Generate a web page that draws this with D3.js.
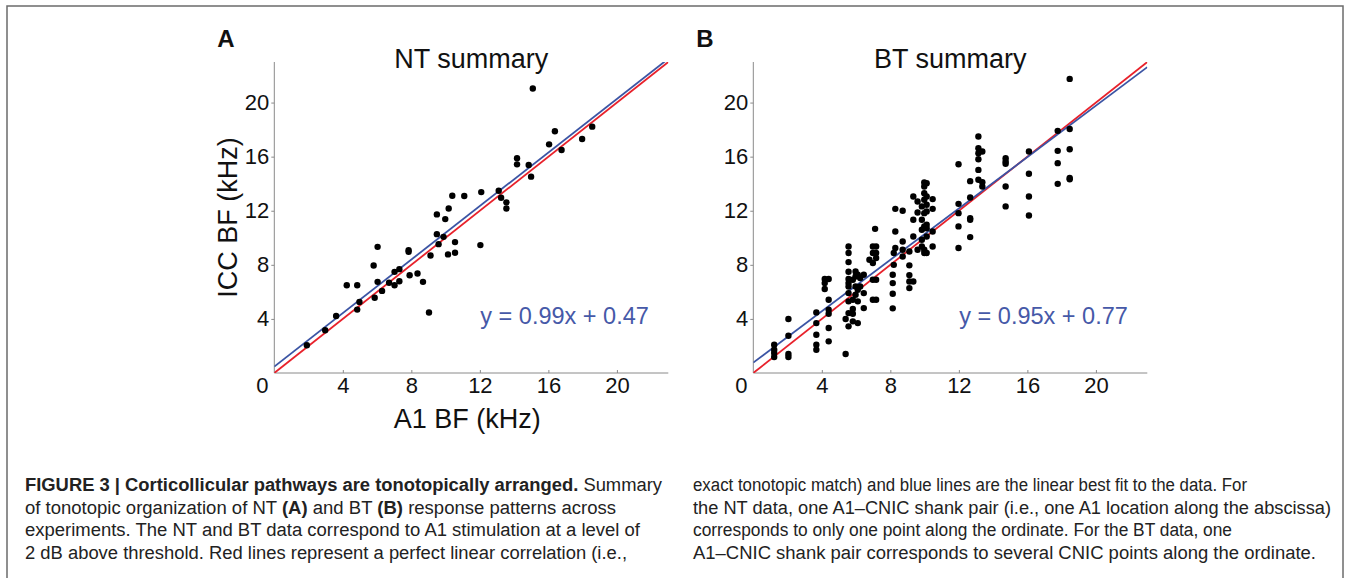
<!DOCTYPE html>
<html>
<head>
<meta charset="utf-8">
<script src="https://cdn.jsdelivr.net/npm/d3@7"></script>
<style>
  body { margin: 0; background: #fff; }
  svg { display: block; font-family: "Liberation Sans", Arial, sans-serif; }
</style>
</head>
<body>
<div id="chart-area"></div>
<script>
// NT data: one ICC point per A1 location
var ntA1  = [1.9, 2.97, 3.61, 4.23, 4.84, 4.97, 4.84, 5.80, 5.86, 6.03, 6.03, 6.29, 6.70, 7.02, 7.02, 7.30, 7.30,
             7.84, 7.84, 7.90, 8.36, 8.68, 9.03, 9.12, 9.49, 9.49, 9.59, 9.88, 9.98, 10.14, 10.18, 10.39, 10.55,
             10.55, 11.09, 12.03, 12.08, 13.10, 13.24, 13.55, 13.55, 14.17, 14.17, 14.85, 14.99, 15.09, 16.04,
             16.38, 16.77, 17.97, 18.56];
var ntICC = [2.05, 3.16, 4.22, 6.49, 6.49, 5.26, 4.69, 7.95, 5.56, 9.33, 6.74, 6.07, 6.67, 7.48, 6.49, 7.68, 6.79,
             9.09, 8.96, 7.23, 7.36, 6.74, 4.47, 8.69, 11.73, 10.27, 9.53, 10.07, 11.38, 8.77, 12.17, 13.11, 9.68,
             8.89, 13.09, 9.46, 13.38, 13.48, 12.96, 12.62, 12.17, 15.88, 15.43, 15.38, 14.52, 21.04, 16.91,
             17.88, 16.49, 17.31, 18.22];

// BT data: several ICC points per A1 location (A1 BF -> list of ICC BF)
var btA1 = [1.22, 2.05, 3.68, 4.17, 4.40, 5.39, 5.56, 5.81, 5.97, 6.10, 6.24, 6.45, 6.78, 6.98, 7.17, 7.11,
            8.14, 8.20, 8.29, 8.72, 9.11, 9.34, 9.59, 9.84, 9.98, 10.12, 10.47, 11.98, 12.66, 13.14, 13.37,
            14.73, 16.09, 17.77, 18.47];
var btICC = [
  [2.09, 1.72, 1.48, 1.18],
  [3.99, 2.76, 1.40, 1.18],
  [4.48, 3.69, 2.83, 2.09, 1.72],
  [6.95, 6.65, 6.21],
  [6.95, 5.42, 4.68, 4.38, 3.33, 2.34],
  [1.40, 3.99],
  [9.36, 8.87, 8.20, 7.49, 6.95, 6.65, 6.40, 5.91, 5.30, 4.43, 3.45],
  [6.90, 5.42, 4.73, 4.38, 3.82],
  [7.51, 7.14, 6.40, 5.79],
  [7.27, 6.16, 5.30, 3.69],
  [7.02, 6.40],
  [7.27, 5.91, 4.80],
  [8.37],
  [9.36, 8.87, 8.13, 6.90, 5.42],
  [9.36, 8.87, 8.50, 6.90, 5.42],
  [10.66],
  [7.27, 6.65, 5.86, 4.78],
  [8.87, 8.00],
  [12.14, 10.47, 9.24],
  [12.00, 9.73, 9.11, 8.62],
  [8.99, 7.96, 7.24, 6.77, 6.28],
  [13.05, 11.33, 10.10, 6.77],
  [12.68, 11.87, 9.11],
  [12.32, 11.33, 10.59, 9.85, 9.36],
  [14.09, 13.79, 13.30, 12.81, 11.82, 10.84, 9.11, 8.87],
  [14.04, 13.05, 12.44, 11.95, 10.96, 10.71, 10.10, 8.87],
  [12.86, 12.14, 10.47, 9.36],
  [15.44, 12.51, 11.82, 10.84, 9.24],
  [14.19, 12.98, 11.45, 11.33, 10.05],
  [17.49, 16.63, 16.26, 15.81, 15.02, 14.29],
  [16.38, 14.11, 13.79],
  [15.89, 15.64, 15.47, 13.79, 12.32],
  [16.38, 14.73, 13.05, 11.65],
  [17.91, 16.43, 15.52, 13.99],
  [21.75, 18.05, 16.55, 14.43, 14.33]
];

// fits: [slope, intercept]
var ntFit = [0.99, 0.47];
var btFit = [0.95, 0.77];
var tickValues = [4, 8, 12, 16, 20];
var axisMax = 23;

var captionLeft = [
  [["FIGURE 3 | Corticollicular pathways are tonotopically arranged.", true], [" Summary", false]],
  [["of tonotopic organization of NT ", false], ["(A)", true], [" and BT ", false], ["(B)", true], [" response patterns across", false]],
  [["experiments. The NT and BT data correspond to A1 stimulation at a level of", false]],
  [["2 dB above threshold. Red lines represent a perfect linear correlation (i.e.,", false]]
];
var captionRight = [
  [["exact tonotopic match) and blue lines are the linear best fit to the data. For", false]],
  [["the NT data, one A1\u2013CNIC shank pair (i.e., one A1 location along the abscissa)", false]],
  [["corresponds to only one point along the ordinate. For the BT data, one", false]],
  [["A1\u2013CNIC shank pair corresponds to several CNIC points along the ordinate.", false]]
];

var W = 1349, H = 578;
var svg = d3.select("#chart-area").append("svg")
	.attr("width", W)
	.attr("height", H);

// figure frame
svg.append("rect")
	.attr("x", 7).attr("y", 6)
	.attr("width", 1336).attr("height", 600)
	.attr("fill", "none")
	.attr("stroke", "#6b6b6b")
	.attr("stroke-width", 1.5);

var ntPoints = ntA1.map(function(x, i){ return {x: x, y: ntICC[i]}; });
var btPoints = [];
btA1.forEach(function(x, i){
	btICC[i].forEach(function(y){ btPoints.push({x: x, y: y}); });
});

function drawPanel(opt) {
	var x = d3.scaleLinear().domain([0, axisMax]).range([opt.left, opt.left + 394]);
	var y = d3.scaleLinear().domain([0, axisMax]).range([373, 62]);
	var g = svg.append("g");

	g.append("clipPath").attr("id", "clip" + opt.letter)
		.append("rect")
		.attr("x", x(0)).attr("y", y(axisMax))
		.attr("width", x(axisMax) - x(0)).attr("height", y(0) - y(axisMax));

	// axes (ticks and labels from d3, axis lines drawn plain)
	var xAxis = d3.axisBottom(x).tickValues(tickValues).tickSize(-3).tickFormat(d3.format("d")).tickPadding(6);
	var yAxis = d3.axisLeft(y).tickValues(tickValues).tickSize(3).tickFormat(d3.format("d")).tickPadding(2);
	var gx = g.append("g").attr("transform", "translate(0," + y(0) + ")").call(xAxis);
	var gy = g.append("g").attr("transform", "translate(" + x(0) + ",0)").call(yAxis);
	[gx, gy].forEach(function(a){
		a.select(".domain").remove();
		a.selectAll(".tick line").attr("stroke", "#8a8a8a");
		a.selectAll(".tick text").attr("font-size", "22px").attr("fill", "#111")
			.attr("font-family", "'Liberation Sans', Arial, sans-serif");
	});
	g.append("line").attr("x1", x(0)).attr("x2", x(axisMax)).attr("y1", y(0)).attr("y2", y(0))
		.attr("stroke", "#8a8a8a");
	g.append("line").attr("x1", x(0)).attr("x2", x(0)).attr("y1", y(0)).attr("y2", y(axisMax))
		.attr("stroke", "#8a8a8a");
	gx.selectAll(".tick text").attr("dy", "0.62em");
	g.append("text")
		.attr("x", x(0) - 12).attr("y", y(0) + 20)
		.attr("text-anchor", "middle")
		.attr("font-size", "22px").attr("fill", "#111")
		.text("0");

	// reference line (red) and best fit (blue)
	var lines = g.append("g").attr("clip-path", "url(#clip" + opt.letter + ")");
	lines.append("line")
		.attr("x1", x(0)).attr("y1", y(0))
		.attr("x2", x(axisMax)).attr("y2", y(axisMax))
		.attr("stroke", "#e8212b").attr("stroke-width", 1.8);
	lines.append("line")
		.attr("x1", x(0)).attr("y1", y(opt.fit[1]))
		.attr("x2", x(axisMax)).attr("y2", y(opt.fit[0] * axisMax + opt.fit[1]))
		.attr("stroke", "#3b54a4").attr("stroke-width", 1.8);

	// dots
	g.selectAll("circle.dot")
		.data(opt.points)
		.enter().append("circle")
			.attr("class", "dot")
			.attr("cx", function(d){ return x(d.x); })
			.attr("cy", function(d){ return y(d.y); })
			.attr("r", 3.2)
			.attr("fill", "#000");

	// labels
	g.append("text")
		.attr("x", (x(0) + x(axisMax)) / 2).attr("y", 68)
		.attr("text-anchor", "middle")
		.attr("font-size", "27px").attr("fill", "#111")
		.text(opt.title);
	g.append("text")
		.attr("x", opt.left - 57).attr("y", 47)
		.attr("font-size", "24px").attr("font-weight", "bold").attr("fill", "#111")
		.text(opt.letter);
	g.append("text")
		.attr("x", x(0) + 206).attr("y", 324)
		.attr("font-size", "23.5px").attr("fill", "#4659a8")
		.text("y = " + opt.fit[0].toFixed(2) + "x + " + opt.fit[1].toFixed(2));

	if (opt.axisLabels) {
		g.append("text")
			.attr("x", (x(0) + x(axisMax)) / 2 - 4).attr("y", 428)
			.attr("text-anchor", "middle")
			.attr("font-size", "27px").attr("fill", "#111")
			.text("A1 BF (kHz)");
		g.append("text")
			.attr("transform", "translate(237," + ((y(0) + y(axisMax)) / 2) + ") rotate(-90)")
			.attr("text-anchor", "middle")
			.attr("font-size", "27px").attr("fill", "#111")
			.text("ICC BF (kHz)");
	}
}

drawPanel({left: 274.3, letter: "A", title: "NT summary", points: ntPoints, fit: ntFit, axisLabels: true});
drawPanel({left: 753.3, letter: "B", title: "BT summary", points: btPoints, fit: btFit, axisLabels: false});

// caption: condensed look by squeezing Liberation Sans to the measured line widths
var baselines = [491, 513.5, 536, 558.5];
var leftEnds = [662, 616, 640, 627];
var rightEnds = [1247, 1331, 1232, 1316];
function captionLine(x, yy, parts, endX) {
	var t = svg.append("text")
		.attr("x", x).attr("y", yy)
		.attr("font-size", "18px")
		.attr("fill", "#222")
		.attr("textLength", endX - x)
		.attr("lengthAdjust", "spacingAndGlyphs");
	parts.forEach(function(p){
		t.append("tspan").attr("font-weight", p[1] ? "bold" : "normal").text(p[0]);
	});
	return t;
}
captionLeft.forEach(function(parts, i){ captionLine(25, baselines[i], parts, leftEnds[i]); });
captionRight.forEach(function(parts, i){ captionLine(693, baselines[i], parts, rightEnds[i]); });
</script>
</body>
</html>
